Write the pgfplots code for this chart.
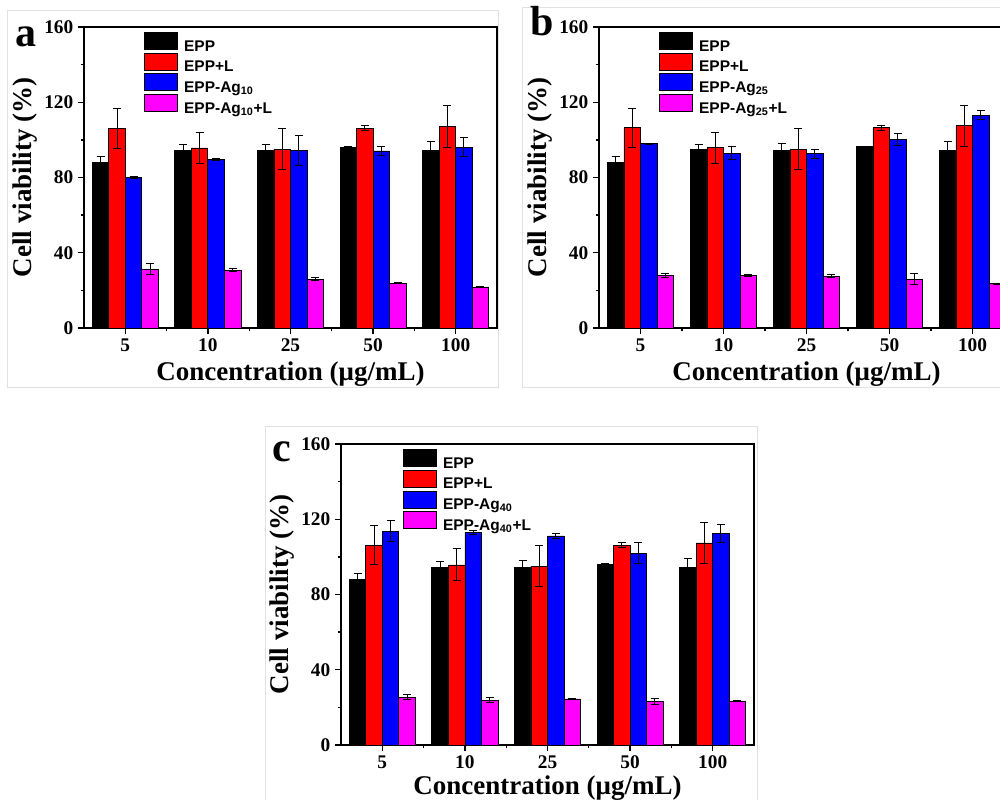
\documentclass[border=0pt]{standalone}
\usepackage{fontspec}
\setmainfont{Liberation Serif}
\setsansfont{Liberation Sans}
\usepackage{pgfplots}
\pgfplotsset{compat=1.18}
\definecolor{cRed}{RGB}{255,0,0}
\definecolor{cBlue}{RGB}{0,0,255}
\definecolor{cMag}{RGB}{255,0,255}
\definecolor{border}{RGB}{225,225,225}
\pgfplotsset{
  panel/.style={
    scale only axis, height=225.75pt,
    ymin=0, ymax=160, ytick={0,40,80,120,160}, minor y tick num=1,
    xmin=-0.5, xmax=4.5, xtick={0,1,2,3,4}, xticklabels={5,10,25,50,100},
    minor xtick={0.5,1.5,2.5,3.5},
    tick pos=left, tick align=outside,
    major tick length=4.5pt, minor tick length=2.6pt,
    axis line style={line width=1.2pt},
    tick style={line width=1pt, black},
    ticklabel style={font=\fontsize{14.5}{14.5}\selectfont\bfseries},
    /pgf/number format/assume math mode=true,
    ylabel={Cell viability (\%)}, xlabel={Concentration (μg/mL)},
    label style={font=\fontsize{20.25}{20.25}\selectfont\bfseries},
    xlabel style={at={(axis description cs:0.5,-0.173)}, anchor=base},
    ylabel style={at={(axis description cs:-0.143,0.5)}, anchor=center},
    ybar, bar width=0.2,
    legend cell align=left,
    legend image code/.code={\draw[##1, line width=0.75pt] (0pt,-2.1pt) rectangle (24.75pt,10.65pt); \path (29.25pt,0pt);},
    legend style={draw=none, fill=none, inner sep=0pt, row sep=-0.3pt,
      font=\sffamily\bfseries\fontsize{11.6}{12}\selectfont, anchor=north west,
      nodes={inner sep=0pt}},
  },
  eb/.style={error bars/.cd, y dir=both, y explicit,
    error bar style={line width=0.75pt, black},
    error mark options={rotate=90, mark size=3pt, line width=0.75pt, black}},
  s1/.style={fill=black, draw=black, line width=0.6pt, bar shift=-0.3, eb},
  s2/.style={fill=cRed, draw=black, line width=0.6pt, bar shift=-0.1, eb},
  s3/.style={fill=cBlue, draw=black, line width=0.6pt, bar shift=0.1, eb},
  s4/.style={fill=cMag, draw=black, line width=0.6pt, bar shift=0.3, eb},
}
\begin{document}
\begin{tikzpicture}
\useasboundingbox (0,0) rectangle (750pt,600pt);
\clip (0,0) rectangle (750pt,600pt);
\fill[white] (0,0) rectangle (750pt,600pt);
% panel borders
\draw[border, line width=0.75pt] (5.25pt,591.75pt) rectangle (373.5pt,309pt);
\draw[border, line width=0.75pt] (391.5pt,594pt) rectangle (760pt,309pt);
\draw[border, line width=0.75pt] (198.75pt,279.75pt) rectangle (567.75pt,-5pt);
% panel letters
\node[anchor=base west, inner sep=0pt, font=\fontsize{31.5}{31.5}\selectfont\bfseries] at (11.25pt,564.75pt) {a};
\node[anchor=base west, inner sep=0pt, font=\fontsize{31.5}{31.5}\selectfont\bfseries] at (397.5pt,573pt) {b};
\node[anchor=base west, inner sep=0pt, font=\fontsize{31.5}{31.5}\selectfont\bfseries] at (204pt,253.5pt) {c};

% ---------- panel a ----------
\begin{axis}[panel, width=309.75pt, at={(63pt,354pt)}, anchor=south west,
  legend style={at={(axis description cs:0.1453,0.9834)}}]
\addplot[s1] coordinates {(0,88.0) +- (0,3.0) (1,94.6) +- (0,3.0) (2,94.2) +- (0,3.5) (3,96.2) +- (0,0.4) (4,94.3) +- (0,4.8)};
\addplot[s2] coordinates {(0,106.1) +- (0,10.5) (1,95.7) +- (0,8.3) (2,95.1) +- (0,11.0) (3,106.3) +- (0,1.3) (4,107.2) +- (0,11.0)};
\addplot[s3] coordinates {(0,79.9) +- (0,0.5) (1,89.6) +- (0,0.5) (2,94.4) +- (0,8.0) (3,94.1) +- (0,2.5) (4,96.2) +- (0,5.0)};
\addplot[s4] coordinates {(0,31.3) +- (0,2.8) (1,30.6) +- (0,0.8) (2,26.0) +- (0,0.7) (3,23.7) +- (0,0.3) (4,21.8) +- (0,0.4)};
\legend{EPP, EPP+L, EPP-Ag\textsubscript{10}, EPP-Ag\textsubscript{10}+L}
\end{axis}

% ---------- panel b ----------
\begin{axis}[panel, width=311.25pt, at={(449.25pt,354pt)}, anchor=south west,
  legend style={at={(axis description cs:0.1446,0.9834)}}]
\addplot[s1] coordinates {(0,88.0) +- (0,3.0) (1,94.8) +- (0,3.0) (2,94.6) +- (0,3.3) (3,96.4) +- (0,0.3) (4,94.6) +- (0,4.6)};
\addplot[s2] coordinates {(0,106.4) +- (0,10.5) (1,95.8) +- (0,8.3) (2,95.1) +- (0,11.0) (3,106.4) +- (0,1.3) (4,107.5) +- (0,10.8)};
\addplot[s3] coordinates {(0,97.9) +- (0,0.3) (1,93.0) +- (0,3.5) (2,92.6) +- (0,2.5) (3,100.1) +- (0,3.3) (4,113.2) +- (0,2.2)};
\addplot[s4] coordinates {(0,27.9) +- (0,1.0) (1,27.8) +- (0,0.4) (2,27.6) +- (0,1.0) (3,26.0) +- (0,2.8) (4,23.5) +- (0,0.3)};
\legend{EPP, EPP+L, EPP-Ag\textsubscript{25}, EPP-Ag\textsubscript{25}+L}
\end{axis}

% ---------- panel c ----------
\begin{axis}[panel, width=309.75pt, at={(255.75pt,41.25pt)}, anchor=south west,
  xlabel style={at={(axis description cs:0.5,-0.164)}, anchor=base},
  legend style={at={(axis description cs:0.150,0.9834)}}]
\addplot[s1] coordinates {(0,88.2) +- (0,3.0) (1,94.6) +- (0,3.0) (2,94.4) +- (0,3.5) (3,96.2) +- (0,0.3) (4,94.3) +- (0,4.8)};
\addplot[s2] coordinates {(0,106.3) +- (0,10.5) (1,95.7) +- (0,8.5) (2,95.1) +- (0,11.0) (3,106.3) +- (0,1.3) (4,107.4) +- (0,11.0)};
\addplot[s3] coordinates {(0,113.7) +- (0,5.5) (1,113.0) +- (0,1.1) (2,111.1) +- (0,1.2) (3,102.0) +- (0,5.5) (4,112.5) +- (0,4.8)};
\addplot[s4] coordinates {(0,25.5) +- (0,1.1) (1,23.9) +- (0,1.3) (2,24.5) +- (0,0.3) (3,23.2) +- (0,1.5) (4,23.4) +- (0,0.3)};
\legend{EPP, EPP+L, EPP-Ag\textsubscript{40}, EPP-Ag\textsubscript{40}+L}
\end{axis}
\end{tikzpicture}
\end{document}
